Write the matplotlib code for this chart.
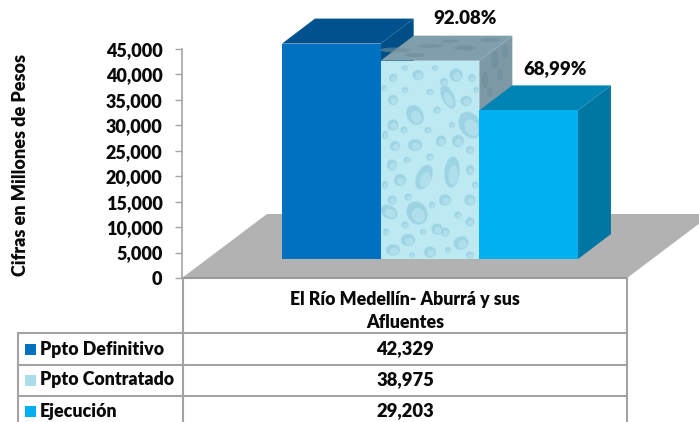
import matplotlib
matplotlib.use("Agg")
import matplotlib.pyplot as plt
from matplotlib.patches import Ellipse, Polygon

plt.rcParams['font.family'] = ['Lato', 'DejaVu Sans']
plt.rcParams['font.weight'] = 'heavy'

W, H = 699, 422

# datos
series = ['Ppto Definitivo', 'Ppto Contratado', 'Ejecución']
valores = [42329, 38975, 29203]
porcentajes = ['', '92.08%', '68,99%']
categoria = 'El Río Medellín- Aburrá y sus\nAfluentes'
yticks = [0, 5000, 10000, 15000, 20000, 25000, 30000, 35000, 40000, 45000]
ylabel = 'Cifras en Millones de Pesos'

frente = ['#0070C0', '#BDE9F3', '#00B0F0']
arriba = ['#00528F', '#7F9FAC', '#0084B4']
lado = ['#004E86', '#7C99A5', '#0076A3']

# gotas de la textura: x, y, ancho, alto, angulo (pixeles de la imagen)
gotas = [
    (448, 97, 12, 25, -25), (452, 172, 15, 31, 5), (424, 177, 15, 26, 25),
    (415, 115, 16, 21, -30), (470, 125, 21, 28, -30), (417, 213, 20, 24, -30),
    (389, 212, 18, 13, 30), (393, 100, 10, 10, 0), (418, 75, 11, 10, 0),
    (456, 75, 13, 13, -30), (466, 101, 11, 10, 0), (444, 82, 8, 8, 0),
    (393, 125, 11, 11, 0), (395, 146, 10, 10, 0), (415, 145, 14, 12, 0),
    (441, 141, 10, 11, 0), (458, 141, 12, 12, 0), (392, 165, 10, 11, 0),
    (400, 180, 12, 12, 0), (392, 200, 9, 9, 0), (445, 200, 12, 11, 0),
    (470, 200, 11, 11, 0), (470, 170, 8, 10, 0), (437, 229, 11, 11, 0),
    (408, 240, 14, 12, 0), (445, 232, 9, 9, 0), (461, 243, 15, 13, -25),
    (393, 250, 14, 11, 0), (430, 252, 12, 11, 0), (470, 222, 9, 9, 0),
    (393, 78, 8, 8, 0), (472, 78, 7, 8, 0), (437, 110, 7, 7, 0),
    (404, 130, 7, 7, 0), (470, 150, 8, 8, 0), (385, 135, 6, 8, 0),
    (385, 185, 6, 8, 0), (405, 225, 7, 7, 0), (470, 255, 8, 7, 0),
    (405, 90, 6, 6, 0), (430, 92, 7, 6, 0), (384, 88, 5, 6, 0),
    (405, 68, 6, 5, 0), (435, 68, 6, 5, 0), (476, 90, 5, 6, 0),
    (428, 130, 7, 6, 0), (452, 125, 6, 6, 0), (407, 160, 7, 6, 0),
    (430, 157, 7, 7, 0), (475, 185, 6, 7, 0), (408, 197, 7, 7, 0),
    (432, 205, 6, 7, 0), (458, 215, 7, 7, 0), (386, 232, 6, 7, 0),
    (423, 232, 6, 6, 0), (448, 250, 6, 6, 0), (412, 255, 6, 5, 0),
]
manchas = [
    (395, 50, 30, 5), (430, 46, 25, 4), (465, 48, 22, 5), (490, 40, 20, 4),
    (450, 41, 18, 3), (415, 55, 20, 4), (495, 60, 8, 18), (505, 52, 6, 14),
    (485, 80, 7, 16), (500, 75, 6, 12), (490, 92, 6, 10),
]

fig = plt.figure(figsize=(W / 100, H / 100), dpi=100)

# ejes del grafico: 0 en y=278, 45000 en y=49, x de 182 a 627
ax = fig.add_axes([182 / W, 1 - 278 / H, 445 / W, 229 / H])
px_x = 98.67
px_y = 229 / 45000
ax.set_xlim(-0.5 - 100 / px_x, 2.5 + 49 / px_x)
ax.set_ylim(0, 45000)
base = 19 / px_y
dx, dy = 33 / px_x, 25 / px_y
ax.patch.set_visible(False)

for s in ['top', 'right', 'bottom']:
    ax.spines[s].set_visible(False)
ax.spines['left'].set_color('#A6A6A6')
ax.spines['left'].set_linewidth(1.2)
ax.set_xticks([])
ax.set_yticks(yticks)
ax.set_yticklabels([f'{v:,}' for v in yticks], fontsize=13, color='#0A0A0A')
ax.tick_params(axis='y', length=5, width=1, color='#A6A6A6', pad=9)
fig.text(21 / W, 1 - 165 / H, ylabel, rotation=90, ha='center', va='center',
         fontsize=13, color='#0A0A0A')

# piso
x0, x1 = ax.get_xlim()
fdx, fdy = 85 / px_x, 64 / px_y
ax.add_patch(Polygon([(x0, 0), (x0 + fdx, fdy), (x1 + fdx, fdy), (x1, 0)],
                     fc='#B2B2B2', ec='none', clip_on=False, zorder=1))
ax.plot([x0, x1], [0, 0], color='#9A9A9A', lw=1.5, clip_on=False, zorder=1.5)

# barras
barras = []
desplaza = [0, 0.36, 0.27]
for i, v in enumerate(valores):
    l, r = i - 0.5, i + 0.5
    t = base + v
    ax.add_patch(Polygon([(r, base), (r + dx, base + dy), (r + dx, t + dy), (r, t)],
                         fc=lado[i], ec='none', clip_on=False, zorder=2 + i))
    ax.add_patch(Polygon([(l, t), (l + dx, t + dy), (r + dx, t + dy), (r, t)],
                         fc=arriba[i], ec='none', clip_on=False, zorder=2 + i))
    b = ax.bar(i, v, width=1, bottom=base, color=frente[i], clip_on=False, zorder=6)[0]
    barras.append(b)
    if porcentajes[i]:
        ax.annotate(porcentajes[i], (i + desplaza[i], t + dy), xytext=(0, 6), textcoords='offset points',
                    ha='center', va='bottom', fontsize=13.4, color='#0A0A0A',
                    annotation_clip=False, zorder=9)

# capa en pixeles para tabla y textura
ov = fig.add_axes([0, 0, 1, 1])
ov.set_xlim(0, W)
ov.set_ylim(H, 0)
ov.axis('off')

for x, y, w, h, a in gotas:
    e = Ellipse((x, y), w, h, angle=a, fc='#96CFE0', ec='#AEDFEB', lw=0.5, alpha=0.8, zorder=7)
    ov.add_patch(e)
    e.set_clip_path(barras[1])
    e2 = Ellipse((x + w * 0.08, y + h * 0.1), w * 0.62, h * 0.62, angle=a, fc='#B5E3EE', ec='none',
                 alpha=0.8, zorder=8)
    ov.add_patch(e2)
    e2.set_clip_path(barras[1])
for x, y, w, h in manchas:
    ov.add_patch(Ellipse((x, y), w, h, fc='#6E8E9B', ec='none', alpha=0.6, zorder=2.5))

# tabla
gris = '#A3A3A3'
ov.plot([18, 627], [333, 333], color=gris, lw=1.5)
ov.plot([18, 627], [365, 365], color=gris, lw=1.5)
ov.plot([18, 627], [396, 396], color=gris, lw=1.5)
ov.plot([18, 18], [333, H], color=gris, lw=1.5)
ov.plot([183, 183], [278, H], color=gris, lw=1.5)
ov.plot([627, 627], [278, H], color=gris, lw=1.5)

ov.text(405, 311, categoria, ha='center', va='center', fontsize=12.8,
        color='#0A0A0A', linespacing=1.45)
swatch = ['#0070C0', '#A9DDEA', '#00B0F0']
for nombre, v, c, y in zip(series, valores, swatch, [349, 380, 411]):
    ov.add_patch(Polygon([(25, y - 5.5), (36, y - 5.5), (36, y + 5.5), (25, y + 5.5)], fc=c, ec='none'))
    ov.text(40, y, nombre, ha='left', va='center', fontsize=12.8, color='#0A0A0A')
    ov.text(405, y, f'{v:,}', ha='center', va='center', fontsize=13.2, color='#0A0A0A')

fig.savefig('out.png', dpi=100)
